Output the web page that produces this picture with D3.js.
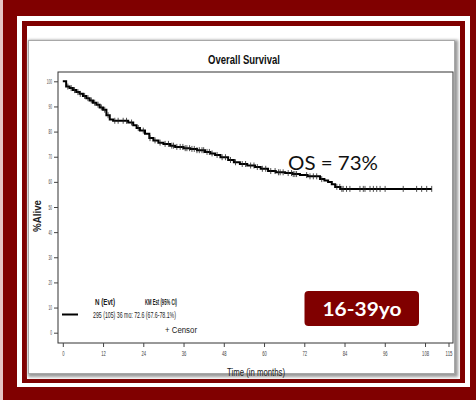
<!DOCTYPE html>
<html><head><meta charset="utf-8">
<script src="https://cdn.jsdelivr.net/npm/d3@7"></script>
<style>body{margin:0;background:#fff}svg{display:block}</style>
</head><body>
<svg id="c" width="476" height="400"></svg>
<script>
// ---- data ----
const times = [0,1,2,3,4,5,6,7,8,9,10,11,12,13,14,15,17,19.5,21,22,23,24.5,25.8,27,28.5,30,32,33.5,36,38,40,42.4,44,45.4,47,49.3,51,52.8,55,57.3,59,61.2,63.5,66.3,68.5,70.7,73,76.7,78,79.1,80.2,81.2,82.7,110];
const survival = [100,97.9,97.3,96.5,95.7,95,94.2,93.3,92.4,91.5,90.7,89.6,88.7,86.5,84.8,84.3,84.3,83.6,82.5,81.4,80.4,79.1,77.4,76.5,75.6,75.1,74.4,73.9,73.4,73.1,72.6,71.9,71.3,70.7,69.8,68.7,67.8,67.1,66.5,65.9,65.2,64.3,63.8,63.5,63.1,62.7,62.2,61.1,60.5,59.9,59.0,58,57.2,57.2];
const censorTimes = [1.5,2.5,3.5,4.5,5.2,6.5,7.5,8.5,9.5,10.5,11.5,12.5,13.5,15.5,16.5,18,19,20.5,22.5,24,26,27.5,29,30.5,31.5,32.5,33,34,35,35.8,36.5,37,37.8,38.5,39.2,40,40.7,41.5,42,43,43.7,44.5,46,47.5,48.5,50,51.5,53.5,54.5,56,57,58,59.5,60.5,62,63.3,64.3,64.8,65.7,67.2,68.2,68.7,69.2,69.7,72.7,73.7,74.7,75.7,77.2,81.7,82.6,83.2,83.6,84.6,85.6,88.6,89.6,90.1,91.6,92.6,93.6,94.6,96.1,101.5,105.5,107,108.5,110];
const xTicks = [0,12,24,36,48,60,72,84,96,108,115];
const yTicks = [0,10,20,30,40,50,60,70,80,90,100];
const titleText = "Overall Survival";
const xLabel = "Time (in months)";
const yLabel = "%Alive";
const legendHead = ["N (Evt)", "KM Est (95% CI)"];
const legendRow = ["295 (105)", "36 mo:", "72.6 (67.6-78.1%)"];
const censorLabel = "+  Censor";
const osText = "OS = 73%";
const badgeText = "16-39yo";

const RED = "#800000";
const svg = d3.select("#c");
const NARROW = "'Liberation Sans Narrow','Arial Narrow','Liberation Sans',Arial,sans-serif";

// ---- frame ----
svg.append("rect").attr("x",0).attr("y",0).attr("width",476).attr("height",400).attr("fill",RED);
svg.append("rect").attr("x",0).attr("y",0).attr("width",3).attr("height",400).attr("fill","#e6c4c4");
svg.append("rect").attr("x",17).attr("y",16).attr("width",453).attr("height",371).attr("fill","#fff");
svg.append("rect").attr("x",22).attr("y",21).attr("width",443).attr("height",362).attr("fill",RED);
svg.append("rect").attr("x",27).attr("y",26).attr("width",433).attr("height",353).attr("fill","#fff");

const defs = svg.append("defs");
const f = defs.append("filter").attr("id","sh").attr("x","-5%").attr("y","-5%").attr("width","110%").attr("height","110%");
f.append("feGaussianBlur").attr("stdDeviation",1.8);
svg.append("rect").attr("x",28).attr("y",40).attr("width",430).attr("height",337).attr("fill","#9a9a9a").attr("filter","url(#sh)");
svg.append("rect").attr("x",28.5).attr("y",40.5).attr("width",426).attr("height",333).attr("fill","#fff").attr("stroke","#a8a8a8").attr("stroke-width",1);

// ---- scales ----
const x = d3.scaleLinear().domain([0,115]).range([62.8,448.5]);
const y = d3.scaleLinear().domain([0,100]).range([332.7,81.3]);
const box = {l:58, r:453, t:72, b:343};

// plot box
svg.append("rect").attr("x",box.l).attr("y",box.t).attr("width",box.r-box.l).attr("height",box.b-box.t)
  .attr("fill","none").attr("stroke","#333").attr("stroke-width",1);

// axes
const xAxis = d3.axisBottom(x).tickValues(xTicks).tickSize(4).tickPadding(4).tickSizeOuter(0);
const gx = svg.append("g").attr("transform",`translate(0,${box.b})`).call(xAxis);
gx.select(".domain").remove();
gx.selectAll("line").attr("stroke","#444");
gx.selectAll("text").attr("font-family",NARROW).attr("font-size",7).attr("fill","#444")
  .attr("textLength",d=>String(d).length*2.3).attr("lengthAdjust","spacingAndGlyphs");

const yAxis = d3.axisLeft(y).tickValues(yTicks).tickSize(4).tickPadding(2).tickSizeOuter(0);
const gy = svg.append("g").attr("transform",`translate(${box.l},0)`).call(yAxis);
gy.select(".domain").remove();
gy.selectAll("line").attr("stroke","#444");
gy.selectAll("text").attr("font-family",NARROW).attr("font-size",6.5).attr("fill","#444")
  .attr("textLength",d=>String(d).length*1.75).attr("lengthAdjust","spacingAndGlyphs");

// titles
svg.append("text").attr("x",244).attr("y",64).attr("text-anchor","middle")
  .attr("font-family",NARROW).attr("font-weight","bold").attr("font-size",12.5).attr("fill","#111")
  .attr("textLength",72).attr("lengthAdjust","spacingAndGlyphs").text(titleText);
svg.append("text").attr("x",256).attr("y",376).attr("text-anchor","middle")
  .attr("font-family",NARROW).attr("font-size",11).attr("fill","#222")
  .attr("textLength",58).attr("lengthAdjust","spacingAndGlyphs").text(xLabel);
svg.append("text").attr("transform","translate(41,216) rotate(-90)").attr("text-anchor","middle")
  .attr("font-family",NARROW).attr("font-weight","bold").attr("font-size",10).attr("fill","#222")
  .attr("textLength",32).attr("lengthAdjust","spacingAndGlyphs").text(yLabel);

// ---- KM curve ----
const pts = times.map((t,i)=>[t,survival[i]]);
const line = d3.line().x(d=>x(d[0])).y(d=>y(d[1])).curve(d3.curveStepAfter);
svg.append("path").attr("d",line(pts)).attr("fill","none").attr("stroke","#000").attr("stroke-width",2);

const bis = d3.bisector(d=>d).right;
function survAt(t){ const i = Math.max(0, bis(times,t)-1); return survival[i]; }
svg.append("g").selectAll("line").data(censorTimes).join("line")
  .attr("x1",d=>x(d)).attr("x2",d=>x(d))
  .attr("y1",d=>y(survAt(d))-3).attr("y2",d=>y(survAt(d))+3)
  .attr("stroke","#222").attr("stroke-width",0.8);

// ---- legend ----
svg.append("line").attr("x1",62).attr("x2",78).attr("y1",314.5).attr("y2",314.5).attr("stroke","#000").attr("stroke-width",2);
const lg = svg.append("g").attr("font-family",NARROW).attr("font-size",8.5).attr("fill","#1a1a1a");
lg.append("text").attr("x",95).attr("y",304.5).attr("font-weight","bold").attr("textLength",20).attr("lengthAdjust","spacingAndGlyphs").text(legendHead[0]);
lg.append("text").attr("x",145).attr("y",304.5).attr("font-weight","bold").attr("textLength",32).attr("lengthAdjust","spacingAndGlyphs").text(legendHead[1]);
lg.append("text").attr("x",93).attr("y",317.5).attr("textLength",83).attr("lengthAdjust","spacingAndGlyphs")
  .attr("xml:space","preserve").text(legendRow.join(" "));
lg.append("text").attr("x",165).attr("y",333).attr("textLength",32).attr("lengthAdjust","spacingAndGlyphs").text(censorLabel);

// ---- annotations ----
svg.append("text").attr("x",288).attr("y",170).attr("font-family","Lato,'Open Sans',sans-serif")
  .attr("font-size",20).attr("fill","#111").attr("textLength",90).attr("lengthAdjust","spacingAndGlyphs").text(osText);
svg.append("rect").attr("x",304.5).attr("y",291).attr("width",114.5).attr("height",35).attr("rx",4).attr("fill",RED);
svg.append("text").attr("x",362).attr("y",315.5).attr("text-anchor","middle").attr("font-family","Lato,'Open Sans',sans-serif")
  .attr("font-weight","bold").attr("font-size",19).attr("fill","#fff").attr("textLength",79).attr("lengthAdjust","spacingAndGlyphs").text(badgeText);
</script>
</body></html>
